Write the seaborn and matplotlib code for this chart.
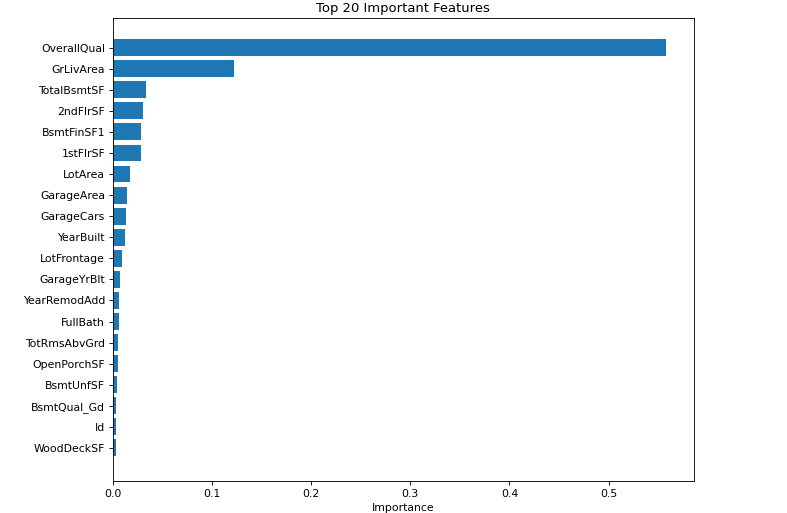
import pandas as pd
import matplotlib
matplotlib.use("Agg")
import matplotlib.pyplot as plt
import seaborn as sns

# feature importances
features = ["OverallQual", "GrLivArea", "TotalBsmtSF", "2ndFlrSF", "BsmtFinSF1",
            "1stFlrSF", "LotArea", "GarageArea", "GarageCars", "YearBuilt",
            "LotFrontage", "GarageYrBlt", "YearRemodAdd", "FullBath", "TotRmsAbvGrd",
            "OpenPorchSF", "BsmtUnfSF", "BsmtQual_Gd", "Id", "WoodDeckSF"]
importance = [0.558, 0.1225, 0.0338, 0.0305, 0.0288,
              0.0282, 0.0174, 0.0144, 0.0137, 0.0124,
              0.0094, 0.0077, 0.0066, 0.0063, 0.0053,
              0.0053, 0.0043, 0.0036, 0.0036, 0.0035]

df = pd.DataFrame({"Feature": features, "Importance": importance})

# reference looks like a 10in wide figure scaled down to 787 px
fig = plt.figure(figsize=(10, 513 / 78.7), dpi=78.7)
ax = fig.add_axes([0.1432, 0.0616, 0.7383, 0.9026])
sns.barplot(data=df, x="Importance", y="Feature", orient="h",
            color="#1f77b4", saturation=1, width=0.8, ax=ax)

# match matplotlib barh default margins
n = len(features)
ax.set_ylim(n - 0.4 + 0.99, -0.4 - 0.99)
ax.set_xlim(0, max(importance) * 1.05)
ax.set_title("Top 20 Important Features")
ax.set_xlabel("Importance")
ax.set_ylabel("")

fig.savefig("out.png", dpi=78.7)
